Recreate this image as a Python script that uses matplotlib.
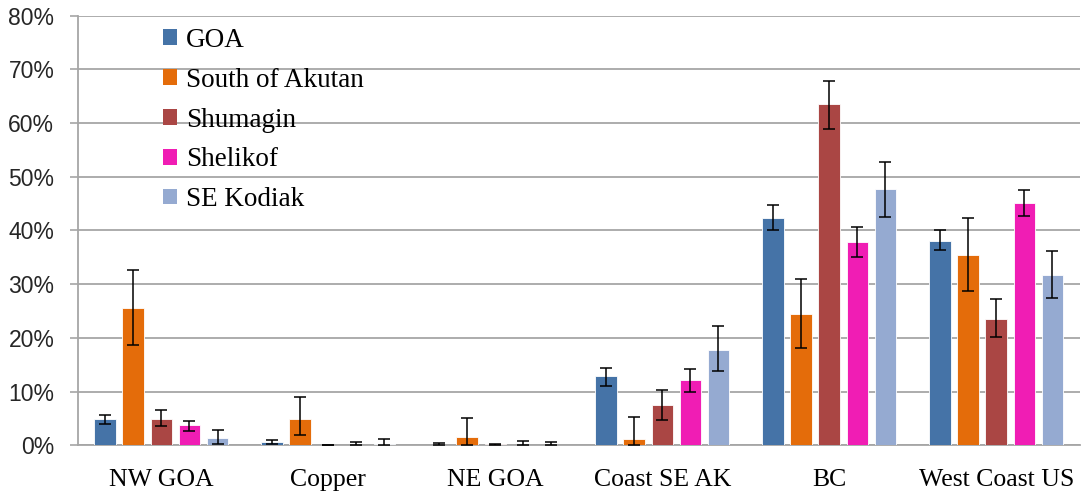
"""
Stock composition by reporting region for five GOA sample groups,
bars with error bars, Excel-like styling.
"""

import numpy as np
import matplotlib.pyplot as plt
from matplotlib.patches import Patch
from matplotlib.ticker import MultipleLocator, FuncFormatter

regions = ["NW GOA", "Copper", "NE GOA", "Coast SE AK", "BC", "West Coast US"]
groups = ["GOA", "South of Akutan", "Shumagin", "Shelikof", "SE Kodiak"]
colors = ["#4573A7", "#E46C0A", "#AA4644", "#F01DB4", "#95AAD1"]

# percent values per group, one entry per region
goa = [4.9, 0.6, 0.0, 12.8, 42.4, 38.1]
akutan = [25.5, 4.9, 1.5, 1.2, 24.5, 35.5]
shumagin = [4.9, 0.0, 0.2, 7.4, 63.5, 23.5]
shelikof = [3.7, 0.0, 0.0, 12.1, 37.9, 45.1]
se_kodiak = [1.3, 0.3, 0.0, 17.8, 47.7, 31.7]

# error bar extents (minus / plus), percent
goa_lo = [0.9, 0.3, 0.0, 1.8, 2.3, 1.8]
goa_hi = [0.8, 0.4, 0.4, 1.6, 2.3, 2.0]
akutan_lo = [6.9, 3.0, 1.5, 1.2, 6.4, 6.8]
akutan_hi = [7.1, 4.0, 3.5, 4.1, 6.5, 6.8]
shumagin_lo = [1.4, 0.0, 0.2, 2.7, 4.6, 3.3]
shumagin_hi = [1.6, 0.0, 0.1, 2.9, 4.4, 3.7]
shelikof_lo = [1.1, 0.0, 0.0, 2.2, 2.8, 2.4]
shelikof_hi = [0.8, 0.6, 0.7, 2.0, 2.7, 2.4]
se_kodiak_lo = [1.0, 0.3, 0.0, 4.0, 5.2, 4.3]
se_kodiak_hi = [1.6, 0.9, 0.6, 4.4, 5.1, 4.5]

values = [goa, akutan, shumagin, shelikof, se_kodiak]
err_lo = [goa_lo, akutan_lo, shumagin_lo, shelikof_lo, se_kodiak_lo]
err_hi = [goa_hi, akutan_hi, shumagin_hi, shelikof_hi, se_kodiak_hi]

SERIF = ["Liberation Serif", "DejaVu Serif"]
GRID = "#A6A6A6"

fig = plt.figure(figsize=(10.82, 4.93), dpi=100)
ax = fig.add_axes([0.072, 0.097, 0.926, 0.871])

x = np.arange(len(regions))
pitch = 0.168
width = 0.13
for i, (vals, lo, hi, col) in enumerate(zip(values, err_lo, err_hi, colors)):
    pos = x + (i - 2) * pitch
    ax.bar(pos, vals, width, color=col, edgecolor="white", linewidth=0.6,
           zorder=3)
    ax.errorbar(pos, vals, yerr=[lo, hi], fmt="none", ecolor="black",
                elinewidth=1.1, capsize=4.3, capthick=1.1, zorder=4)

ax.set_xlim(-0.5, len(regions) - 0.5)
ax.set_ylim(0, 80)
ax.yaxis.set_major_locator(MultipleLocator(10))
ax.yaxis.set_major_formatter(FuncFormatter(lambda v, p: f"{v:.0f}%"))
ax.yaxis.grid(True, color=GRID, linewidth=1.3, zorder=0)
ax.set_axisbelow(True)

ax.set_xticks(x)
ax.set_xticklabels(regions, family=SERIF, fontsize=18.5)
ax.tick_params(axis="x", length=0, pad=17)
ax.tick_params(axis="y", length=6, width=1.2, color=GRID, pad=11,
               labelsize=16.5, labelcolor="#262626")
for lab in ax.get_yticklabels():
    lab.set_family(["Liberation Sans", "DejaVu Sans"])

for side in ["top", "right"]:
    ax.spines[side].set_visible(False)
ax.spines["left"].set_color(GRID)
ax.spines["left"].set_linewidth(1.3)
ax.spines["bottom"].set_color(GRID)
ax.spines["bottom"].set_linewidth(1.3)

handles = [Patch(facecolor=c, edgecolor="none") for c in colors]
ax.legend(handles, groups, loc="upper left", bbox_to_anchor=(0.085, 0.972),
          frameon=False, prop={"family": SERIF, "size": 19.5},
          handlelength=0.5, handleheight=0.5, handletextpad=0.35,
          labelspacing=0.55, borderaxespad=0.0, borderpad=0.0)

fig.savefig("out.png", dpi=100)
plt.close(fig)
